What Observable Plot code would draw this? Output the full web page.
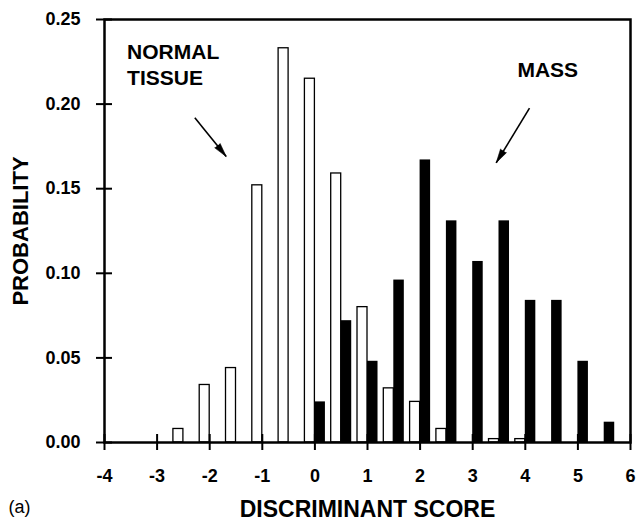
<!DOCTYPE html>
<html><head><meta charset="utf-8">
<script src="https://cdn.jsdelivr.net/npm/d3@7"></script>
<script src="https://cdn.jsdelivr.net/npm/@observablehq/plot@0.6"></script>
<style>
html,body{margin:0;padding:0;background:#fff;}
#chart svg{display:block;}
</style></head><body><div id="chart"></div>
<script>
// Histogram bins (discriminant score) and probabilities
const bins = [-2.5, -2, -1.5, -1, -0.5, 0, 0.5, 1, 1.5, 2, 2.5, 3, 3.5, 4, 4.5, 5, 5.5];
const normalTissue = [0.008, 0.034, 0.044, 0.152, 0.233, 0.215, 0.159, 0.080, 0.032, 0.024, 0.008, 0, 0.002, 0.002, 0, 0, 0];
const mass = [0, 0, 0, 0, 0, 0.024, 0.072, 0.048, 0.096, 0.167, 0.131, 0.107, 0.131, 0.084, 0.084, 0.048, 0.012];
const xTicks = [-4, -3, -2, -1, 0, 1, 2, 3, 4, 5, 6];
const yTicks = [0, 0.05, 0.10, 0.15, 0.20, 0.25];
const annotationText = ["NORMAL", "TISSUE", "MASS"];
const annotationX = [-3.57, -3.57, 3.85];
const annotationY = [0.2267, 0.2112, 0.216];
const arrowFrom = [[-2.283, 0.192], [4.08, 0.1976]];
const arrowTo = [[-1.686, 0.169], [3.447, 0.1653]];

const W = 636, H = 523, mL = 104, mR = 6, mT = 19, mB = 81;
const xDomain = [-4, 6], yDomain = [0, 0.25];
const xs = d3.scaleLinear(xDomain, [mL, W - mR]);
const ys = d3.scaleLinear(yDomain, [H - mB, mT]);

const white = bins.map((b, i) => ({b, p: normalTissue[i]})).filter(d => d.p > 0);
const black = bins.map((b, i) => ({b, p: mass[i]})).filter(d => d.p > 0);
const labels = annotationText.map((t, i) => ({t, x: annotationX[i], y: annotationY[i]}));
const arrows = arrowFrom.map((f, i) => {
  const a = {x1: f[0], y1: f[1], x2: arrowTo[i][0], y2: arrowTo[i][1]};
  const dx = xs(a.x2) - xs(a.x1), dy = ys(a.y2) - ys(a.y1);
  a.angle = Math.atan2(dx, -dy) * 180 / Math.PI;
  return a;
});
const font = "'Liberation Sans', Arial, Helvetica, sans-serif";

const chart = Plot.plot({
  width: W, height: H,
  marginLeft: mL, marginRight: mR, marginTop: mT, marginBottom: mB,
  style: {fontFamily: font, background: "#fff", color: "#000", fontSize: "18px", fontWeight: "bold"},
  x: {domain: xDomain},
  y: {domain: yDomain},
  marks: [
    Plot.rect(white, {x1: d => d.b - 0.19, x2: d => d.b, y1: 0, y2: "p", fill: "white", stroke: "black", strokeWidth: 1.3}),
    Plot.rect(black, {x1: d => d.b, x2: d => d.b + 0.2, y1: 0, y2: "p", fill: "black"}),
    Plot.frame({stroke: "black", strokeWidth: 2.5}),
    Plot.axisX(xTicks, {tickSize: 8, tickPadding: 19, tickFormat: d => String(d), fontSize: 18, fontWeight: "bold", strokeWidth: 2, label: null}),
    Plot.ruleX(xTicks, {x: d => d, y1: 0, y2: 0, insetTop: -8, insetBottom: 0, stroke: "black", strokeWidth: 2}),
    Plot.axisY(yTicks, {tickSize: 8, tickPadding: 16, tickFormat: d3.format(".2f"), fontSize: 18, fontWeight: "bold", strokeWidth: 2, label: null}),
    Plot.ruleY(yTicks, {y: d => d, x1: -4, x2: -4, insetLeft: 0, insetRight: -8, stroke: "black", strokeWidth: 2}),
    Plot.text(labels, {x: "x", y: "y", text: "t", textAnchor: "start", lineAnchor: "bottom", fontSize: 21, fontWeight: "bold"}),
    Plot.link(arrows, {x1: "x1", y1: "y1", x2: "x2", y2: "y2", stroke: "black", strokeWidth: 1.6}),
    Plot.vector(arrows, {x: "x2", y: "y2", rotate: "angle", length: 14, r: 3.5, shape: "spike", anchor: "end", fill: "black", stroke: "black", strokeWidth: 0.5}),
    Plot.text(["DISCRIMINANT SCORE"], {text: d => d, frameAnchor: "bottom", textAnchor: "middle", dy: 74, lineAnchor: "bottom", fontSize: 23, fontWeight: "bold"}),
    Plot.text(["(a)"], {text: d => d, frameAnchor: "bottom-left", dx: -96, dy: 70, textAnchor: "start", lineAnchor: "bottom", fontSize: 18, fontWeight: "normal"}),
    Plot.text(["PROBABILITY"], {text: d => d, frameAnchor: "left", textAnchor: "middle", dx: -84, rotate: -90, fontSize: 22, fontWeight: "bold"})
  ]
});
document.getElementById("chart").appendChild(chart);
</script>
</body></html>
